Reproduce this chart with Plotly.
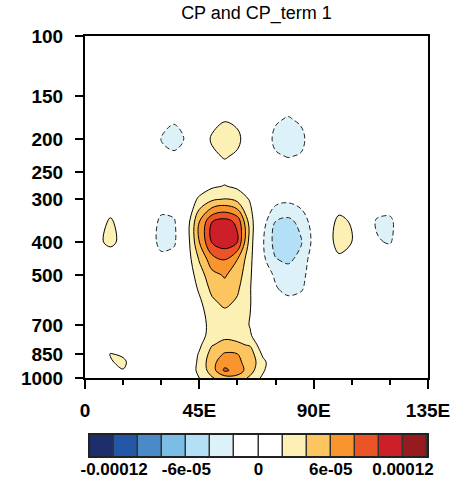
import plotly.graph_objects as go

title_text = "CP and CP_term 1"

# longitudes (degrees east) and pressure levels (hPa)
lons = [0, 5, 10, 15, 20, 25, 30, 35, 40, 45, 50, 55, 60, 65, 70, 75, 80, 85,
        90, 95, 100, 105, 110, 115, 120, 125, 130, 135]
pressures = [1000, 950, 900, 850, 800, 750, 700, 650, 600, 550, 500, 450, 400,
             350, 300, 275, 250, 225, 200, 175, 150, 125, 100]

# CP values in units of 1e-5, one row per pressure level
value_unit = 1e-5
cp_values = [
    [0, 0, 0, 0.3, 0, 0, 0, 0, 0.4, 2.0, 3.8, 5.0, 5.2, 3.6, 1.6, 0.2, 0, 0, 0, 0, 0, 0, 0, 0, 0, 0, 0, 0],
    [0, 0, 0.5, 1.9, 0.6, 0, 0, 0, 0.6, 2.5, 5.0, 8.4, 7.2, 4.8, 2.3, 0.2, 0, 0, 0, 0, 0, 0, 0, 0, 0, 0, 0, 0],
    [0, 0.3, 1.8, 2.5, 0.6, 0, 0, 0, 0.5, 2.4, 5.4, 7.2, 6.4, 5.2, 2.6, 0.3, 0, 0, 0, 0, 0, 0, 0, 0, 0, 0, 0, 0],
    [0, 0.4, 2.1, 1.6, 0.3, 0, 0, 0, 0.3, 2.2, 4.8, 6.2, 6.0, 5.0, 1.6, 0.1, 0, 0, 0, 0, 0, 0, 0, 0, 0, 0, 0, 0],
    [0, 0, 0.3, 0.2, 0, 0, 0, 0, 0.1, 1.6, 3.9, 4.5, 4.3, 3.8, 0.5, 0, 0, 0, 0, 0, 0, 0, 0, 0, 0, 0, 0, 0],
    [0, 0, 0, 0, 0, 0, 0, 0, 0, 1.2, 2.8, 3.6, 3.4, 2.2, 0.3, 0, 0, 0, 0, 0, 0, 0, 0, 0, 0, 0, 0, 0],
    [0, 0, 0, 0, 0, 0, 0, 0, 0, 1.0, 2.8, 3.0, 3.0, 1.9, 0.2, 0, 0, 0, 0, 0, 0, 0, 0, 0, 0, 0, 0, 0],
    [0, 0, 0, 0, 0, 0, 0, 0, 0.1, 1.3, 2.9, 3.5, 3.1, 2.0, 0.2, -0.2, -0.4, -0.2, 0, 0, 0, 0, 0, 0, 0, 0, 0, 0],
    [0, 0, 0, 0, 0, 0, 0, 0, 0.2, 1.6, 3.6, 4.5, 3.7, 2.1, 0.2, -1.0, -1.4, -0.8, 0, 0, 0, 0, 0, 0, 0, 0, 0, 0],
    [0, 0, 0, 0, 0, 0, 0, 0, 0.3, 2.3, 4.5, 5.3, 4.3, 2.1, -0.3, -1.8, -2.6, -2.3, -0.4, 0, 0, 0, 0, 0, 0, 0, 0, 0],
    [0, 0, 0, 0, 0, 0, -0.2, -0.2, 0.6, 3.0, 5.4, 6.2, 5.0, 2.3, -0.9, -2.3, -3.0, -2.7, -0.8, 0, 0.4, 0.3, 0, 0, 0, 0, 0, 0],
    [0, 0, 0.5, 0.2, 0, -0.4, -1.4, -1.0, 0.8, 4.2, 7.2, 8.1, 6.0, 2.6, -1.5, -3.9, -4.4, -3.4, -0.8, 0.4, 1.6, 1.2, 0.2, -0.5, -0.5, 0, 0, 0],
    [0.2, 1.5, 2.6, 1.3, 0.2, -0.8, -2.7, -2.4, 0.8, 6.0, 10.2, 11.2, 10.0, 3.0, -1.8, -4.8, -5.2, -4.2, -1.4, 1.0, 2.8, 2.0, 0.3, -1.8, -2.2, -0.6, 0, 0],
    [0.1, 0.8, 2.4, 0.8, 0, -0.7, -2.5, -2.3, 0.8, 6.0, 10.0, 11.0, 9.5, 3.0, -1.2, -4.1, -4.6, -3.4, -1.0, 0.8, 2.6, 1.8, -0.5, -2.3, -2.5, -0.6, 0, 0],
    [0, 0, 0.3, 0, 0, -0.2, -0.9, -0.6, 0.4, 2.4, 3.6, 4.1, 3.3, 1.8, -0.3, -1.2, -1.5, -1.0, -0.2, 0, 0.6, 0.3, 0, -0.6, -0.6, 0, 0, 0],
    [0, 0, 0, 0, 0, 0, 0, 0, 0, 0.8, 1.7, 2.1, 1.6, 0.6, 0, -0.5, -0.6, -0.3, 0, 0, 0, 0, 0, 0, 0, 0, 0, 0],
    [0, 0, 0, 0, 0, 0, -0.2, -0.3, 0, 0, 0.6, 1.0, 0.6, 0, 0, -0.5, -0.6, -0.4, 0, 0, 0, 0, 0, 0, 0, 0, 0, 0],
    [0, 0, 0, 0, 0, 0, -0.6, -1.3, -0.5, 0.2, 1.5, 2.2, 1.6, 0.3, -0.3, -1.7, -2.1, -1.8, -0.3, 0, 0, 0, 0, 0, 0, 0, 0, 0],
    [0, 0, 0, 0, 0, -0.3, -2.1, -3.4, -1.6, 0.3, 2.3, 3.3, 2.6, 0.3, -0.4, -2.6, -3.4, -2.7, -0.4, 0, 0, 0, 0, 0, 0, 0, 0, 0],
    [0, 0, 0, 0, 0, 0, -0.7, -1.5, -0.5, 0, 1.2, 1.8, 1.4, 0, -0.1, -1.7, -2.2, -1.6, -0.1, 0, 0, 0, 0, 0, 0, 0, 0, 0],
    [0, 0, 0, 0, 0, 0, 0, -0.2, 0, 0, 0, 0.3, 0, 0, 0, -0.2, -0.4, -0.2, 0, 0, 0, 0, 0, 0, 0, 0, 0, 0],
    [0] * 28,
    [0] * 28,
]

# contour levels and the 14 band colours
levels = [-0.00012, -0.0001, -8e-05, -6e-05, -4e-05, -2e-05, 0,
          2e-05, 4e-05, 6e-05, 8e-05, 0.0001, 0.00012]
band_colors = ["#1d2e6b", "#2356a4", "#4a8ac6", "#7bbde6", "#b3e0f6", "#ddf1f9",
               "#ffffff", "#ffffff", "#fdf0b4", "#fdc55f", "#f8952f", "#eb5427",
               "#cd1f28", "#961b1e"]
cbar_tick_vals = [-0.00012, -6e-05, 0, 6e-05, 0.00012]
cbar_tick_text = ["-0.00012", "-6e-05", "0", "6e-05", "0.00012"]

p_ticks = [100, 150, 200, 250, 300, 400, 500, 700, 850, 1000]
lon_ticks = [0, 45, 90, 135]
lon_tick_text = ["0", "45E", "90E", "135E"]

# ---------------------------------------------------------------------------
z = [[v * value_unit for v in row] for row in cp_values]
step = levels[1] - levels[0]
n_bands = len(band_colors)

colorscale = []
for k, c in enumerate(band_colors):
    lo = 0.0 if k == 0 else (k - 0.5) / (n_bands - 1)
    hi = 1.0 if k == n_bands - 1 else (k + 0.5) / (n_bands - 1)
    colorscale += [[lo, c], [hi, c]]

FONT = "Liberation Sans, Arial, Helvetica, sans-serif"
smooth = 1.0

fig = go.Figure()

fig.add_trace(go.Contour(
    x=lons, y=pressures, z=z,
    contours=dict(start=levels[0], end=levels[-1], size=step,
                  coloring="fill", showlines=False),
    colorscale=colorscale, showscale=False,
    line=dict(width=0, smoothing=smooth), hoverinfo="skip",
))
pos = [l for l in levels if l > 0]
neg = [l for l in levels if l < 0]
fig.add_trace(go.Contour(
    x=lons, y=pressures, z=z,
    contours=dict(start=pos[0], end=pos[-1], size=step, coloring="none"),
    line=dict(color="black", width=1, smoothing=smooth),
    showscale=False, hoverinfo="skip",
))
fig.add_trace(go.Contour(
    x=lons, y=pressures, z=z,
    contours=dict(start=neg[0], end=neg[-1], size=step, coloring="none"),
    line=dict(color="#222222", width=1, dash="5px,3px", smoothing=smooth),
    showscale=False, hoverinfo="skip",
))

# label bar built from the levels
centers = [levels[0] - step / 2] + [(a + b) / 2 for a, b in zip(levels[:-1], levels[1:])] + [levels[-1] + step / 2]
fig.add_trace(go.Heatmap(
    x=centers, y=[0], z=[centers], zmin=centers[0], zmax=centers[-1],
    colorscale=colorscale, showscale=False, xgap=1.5,
    xaxis="x2", yaxis="y2", hoverinfo="skip",
))

W, H = 456, 481
ml, mr, mt, mb = 85, 28, 36, 25
ph = H - mt - mb
pw = W - ml - mr
y_main_bottom = 378
cb_top, cb_bottom = 435, 456
cb_left, cb_right = 90, 427

tick_font = dict(family=FONT, size=19, color="black", weight="bold")

fig.update_layout(
    width=W, height=H,
    margin=dict(l=ml, r=mr, t=mt, b=mb, autoexpand=False),
    paper_bgcolor="white", plot_bgcolor="white",
    showlegend=False,
    title=dict(text=title_text, x=0.5, xref="paper", xanchor="center",
               y=1 - 13 / H, yref="container", yanchor="middle",
               font=dict(family=FONT, size=18, color="black")),
    xaxis=dict(domain=[0, 1], anchor="y", range=[lons[0], lons[-1]],
               automargin=False,
               tickmode="array", tickvals=lon_ticks, ticktext=lon_tick_text,
               ticks="outside", ticklen=9, tickwidth=1.5, tickcolor="black",
               ticklabelstandoff=5,
               minor=dict(tickmode="linear", tick0=0, dtick=15, ticks="outside",
                          ticklen=5, tickwidth=1.5, tickcolor="black"),
               showline=True, linewidth=2, linecolor="black", mirror=True,
               showgrid=False, zeroline=False, tickfont=tick_font),
    yaxis=dict(domain=[(H - mb - y_main_bottom) / ph, 1], anchor="x",
               automargin=False,
               type="log", range=[3, 2],
               tickmode="array", tickvals=p_ticks, ticktext=[str(p) for p in p_ticks],
               ticks="outside", ticklen=8, tickwidth=1.5, tickcolor="black",
               ticklabelstandoff=8,
               showline=True, linewidth=2, linecolor="black", mirror=True,
               showgrid=False, zeroline=False, tickfont=tick_font),
    xaxis2=dict(domain=[(cb_left - ml) / pw, (cb_right - ml) / pw], anchor="y2",
                automargin=False,
                range=[centers[0] - step / 2, centers[-1] + step / 2],
                tickmode="array", tickvals=cbar_tick_vals, ticktext=cbar_tick_text,
                ticks="", ticklabelstandoff=-3,
                showline=True, linewidth=1.5, linecolor="#222222", mirror=True,
                showgrid=False, zeroline=False,
                tickfont=dict(family=FONT, size=17, color="black", weight="bold")),
    yaxis2=dict(domain=[0, (H - mb - cb_top) / ph], anchor="x2", range=[-0.5, 0.5],
                automargin=False,
                showticklabels=False, ticks="", showline=True, linewidth=1.5,
                linecolor="#222222", mirror=True, showgrid=False, zeroline=False),
    shapes=[dict(type="rect", xref="x2 domain", yref="y2 domain",
                 x0=0, x1=1, y0=0, y1=1, fillcolor="#333333",
                 line=dict(width=0), layer="below")],
)

fig.write_html("out.html", config={"displayModeBar": False},
               post_script="document.body.style.margin='0px';document.body.style.overflow='hidden';")
